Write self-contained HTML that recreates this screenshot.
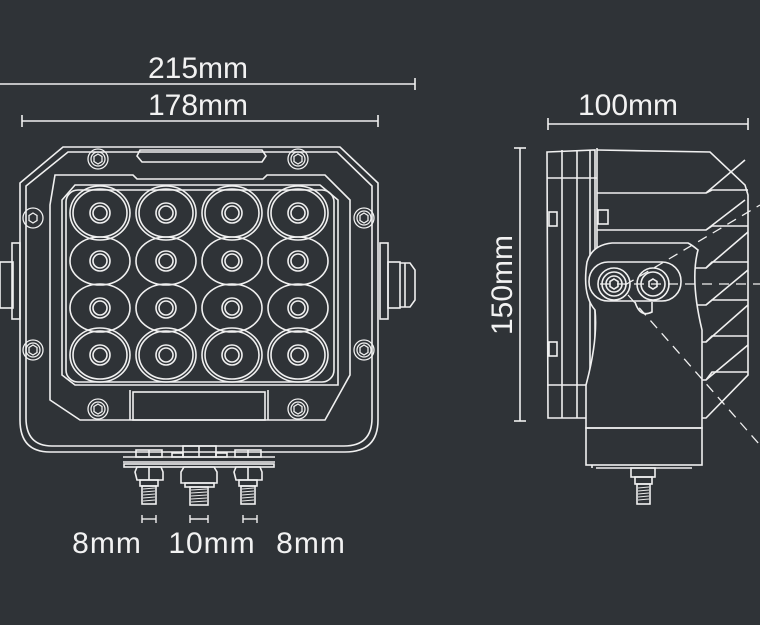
<!DOCTYPE html>
<html><head><meta charset="utf-8"><style>
html,body{margin:0;padding:0;background:#2f3337;}
svg{display:block}
text{font-family:"Liberation Sans",sans-serif;fill:#f2f2f2;font-size:30px}
</style></head><body>
<svg width="760" height="625" viewBox="0 0 760 625" xmlns="http://www.w3.org/2000/svg">
<rect width="760" height="625" fill="#2f3337"/>
<g stroke="#f0f0f0" fill="none" stroke-width="1.6">
<line x1="0" y1="84" x2="415" y2="84"/><line x1="415" y1="78" x2="415" y2="90"/>
<line x1="22" y1="121" x2="378" y2="121"/><line x1="22" y1="115" x2="22" y2="127"/><line x1="378" y1="115" x2="378" y2="127"/>
<line x1="548" y1="124" x2="748" y2="124"/><line x1="548" y1="118" x2="548" y2="130"/><line x1="748" y1="118" x2="748" y2="130"/>
<line x1="520" y1="148" x2="520" y2="421"/><line x1="514" y1="148" x2="526" y2="148"/><line x1="514" y1="421" x2="526" y2="421"/>
<g stroke-width="1.4">
<line x1="142" y1="519" x2="156" y2="519"/><line x1="142" y1="515" x2="142" y2="523"/><line x1="156" y1="515" x2="156" y2="523"/>
<line x1="190" y1="519" x2="208" y2="519"/><line x1="190" y1="515" x2="190" y2="523"/><line x1="208" y1="515" x2="208" y2="523"/>
<line x1="243" y1="519" x2="257" y2="519"/><line x1="243" y1="515" x2="243" y2="523"/><line x1="257" y1="515" x2="257" y2="523"/>
</g>
<!-- FRONT VIEW -->
<path d="M63 147 L340 147 L378 183 L378 420 Q378 452 345 452 L50 452 Q20 452 20 420 L20 183 Z"/>
<path d="M68 152 L337 152 L372 186 L372 418 Q372 446 344 446 L52 446 Q26 446 26 418 L26 186 Z"/>
<path d="M140 150 L262 150 L266 156 L262 162 L142 162 L137 156 Z"/>
<path d="M55 175 L133 175 L137 179 L263 179 L267 175 L325 175 L350 200 L350 375 L325 420 L80 420 L50 400 L50 205 Z"/>
<path d="M75 185 L320 185 L338 200 L338 385 L75 385 L62 375 L62 200 Z"/>
<rect x="66" y="190" width="268" height="192" rx="12"/>
<rect x="133" y="392" width="132" height="28"/>
<line x1="130" y1="390" x2="130" y2="420"/><line x1="268" y1="390" x2="268" y2="420"/>
<g>
<ellipse cx="100" cy="213" rx="30" ry="27"/><ellipse cx="100" cy="213" rx="27" ry="24"/><circle cx="100" cy="213" r="10"/><circle cx="100" cy="213" r="7"/>
<ellipse cx="166" cy="213" rx="30" ry="27"/><ellipse cx="166" cy="213" rx="27" ry="24"/><circle cx="166" cy="213" r="10"/><circle cx="166" cy="213" r="7"/>
<ellipse cx="232" cy="213" rx="30" ry="27"/><ellipse cx="232" cy="213" rx="27" ry="24"/><circle cx="232" cy="213" r="10"/><circle cx="232" cy="213" r="7"/>
<ellipse cx="298" cy="213" rx="30" ry="27"/><ellipse cx="298" cy="213" rx="27" ry="24"/><circle cx="298" cy="213" r="10"/><circle cx="298" cy="213" r="7"/>
</g>
<g transform="translate(0,48)">
<ellipse cx="100" cy="213" rx="30" ry="24"/><circle cx="100" cy="213" r="10"/><circle cx="100" cy="213" r="7"/>
<ellipse cx="166" cy="213" rx="30" ry="24"/><circle cx="166" cy="213" r="10"/><circle cx="166" cy="213" r="7"/>
<ellipse cx="232" cy="213" rx="30" ry="24"/><circle cx="232" cy="213" r="10"/><circle cx="232" cy="213" r="7"/>
<ellipse cx="298" cy="213" rx="30" ry="24"/><circle cx="298" cy="213" r="10"/><circle cx="298" cy="213" r="7"/>
</g>
<g transform="translate(0,95)">
<ellipse cx="100" cy="213" rx="30" ry="24"/><circle cx="100" cy="213" r="10"/><circle cx="100" cy="213" r="7"/>
<ellipse cx="166" cy="213" rx="30" ry="24"/><circle cx="166" cy="213" r="10"/><circle cx="166" cy="213" r="7"/>
<ellipse cx="232" cy="213" rx="30" ry="24"/><circle cx="232" cy="213" r="10"/><circle cx="232" cy="213" r="7"/>
<ellipse cx="298" cy="213" rx="30" ry="24"/><circle cx="298" cy="213" r="10"/><circle cx="298" cy="213" r="7"/>
</g>
<g transform="translate(0,142)">
<ellipse cx="100" cy="213" rx="30" ry="27"/><ellipse cx="100" cy="213" rx="27" ry="24"/><circle cx="100" cy="213" r="10"/><circle cx="100" cy="213" r="7"/>
<ellipse cx="166" cy="213" rx="30" ry="27"/><ellipse cx="166" cy="213" rx="27" ry="24"/><circle cx="166" cy="213" r="10"/><circle cx="166" cy="213" r="7"/>
<ellipse cx="232" cy="213" rx="30" ry="27"/><ellipse cx="232" cy="213" rx="27" ry="24"/><circle cx="232" cy="213" r="10"/><circle cx="232" cy="213" r="7"/>
<ellipse cx="298" cy="213" rx="30" ry="27"/><ellipse cx="298" cy="213" rx="27" ry="24"/><circle cx="298" cy="213" r="10"/><circle cx="298" cy="213" r="7"/>
</g>
<g stroke-width="1.3">
<circle cx="98" cy="159" r="10"/><circle cx="98" cy="159" r="7"/><polygon points="98,154 102,156.5 102,161.5 98,164 94,161.5 94,156.5"/>
<circle cx="298" cy="159" r="10"/><circle cx="298" cy="159" r="7"/><polygon points="298,154 302,156.5 302,161.5 298,164 294,161.5 294,156.5"/>
<circle cx="33" cy="218" r="10"/><polygon points="33,213 37,215.5 37,220.5 33,223 29,220.5 29,215.5"/>
<circle cx="364" cy="218" r="10"/><circle cx="364" cy="218" r="7"/><polygon points="364,213 368,215.5 368,220.5 364,223 360,220.5 360,215.5"/>
<circle cx="33" cy="350" r="10"/><circle cx="33" cy="350" r="7"/><polygon points="33,345 37,347.5 37,352.5 33,355 29,352.5 29,347.5"/>
<circle cx="364" cy="350" r="10"/><circle cx="364" cy="350" r="7"/><polygon points="364,345 368,347.5 368,352.5 364,355 360,352.5 360,347.5"/>
<circle cx="98" cy="409" r="10"/><circle cx="98" cy="409" r="7"/><polygon points="98,404 102,406.5 102,411.5 98,414 94,411.5 94,406.5"/>
<circle cx="298" cy="409" r="10"/><circle cx="298" cy="409" r="7"/><polygon points="298,404 302,406.5 302,411.5 298,414 294,411.5 294,406.5"/>
</g>
<rect x="0" y="262" width="13" height="46"/><rect x="12" y="243" width="8" height="76"/>
<rect x="380" y="243" width="8" height="76"/><rect x="388" y="262" width="12" height="46"/>
<path d="M400 263 L410 263 L415 270 L415 300 L410 307 L400 307"/><line x1="405" y1="263" x2="405" y2="307"/>
<line x1="123" y1="457" x2="275" y2="457"/><line x1="123" y1="462" x2="275" y2="462"/>
<rect x="136" y="450" width="26" height="7"/><line x1="149" y1="450" x2="149" y2="457"/>
<rect x="235" y="450" width="26" height="7"/><line x1="248" y1="450" x2="248" y2="457"/>
<rect x="183" y="446" width="33" height="11"/><line x1="199" y1="446" x2="199" y2="457"/>
<rect x="172" y="453" width="11" height="4"/><rect x="216" y="453" width="11" height="4"/>
<rect x="124" y="464" width="150" height="3"/>
<path d="M137 467 L161 467 L163 472 L163 480 L137 480 L135 472 Z"/><line x1="149" y1="467" x2="149" y2="480"/>
<path d="M236 467 L260 467 L262 472 L262 480 L236 480 L234 472 Z"/><line x1="248" y1="467" x2="248" y2="480"/>
<path d="M184 467 L214 467 L217 472 L217 483 L181 483 L181 472 Z"/>
<rect x="140" y="480" width="18" height="6"/><rect x="239" y="480" width="18" height="6"/><rect x="185" y="483" width="29" height="4"/>
<rect x="142" y="486" width="14" height="18"/><rect x="241" y="486" width="14" height="18"/><rect x="190" y="487" width="18" height="18"/>
</g>
<g stroke="#e8e8e8" stroke-width="1">
<path d="M143 489 L155 488 M143 492 L155 491 M143 495 L155 494 M143 498 L155 497 M143 501 L155 500"/>
<path d="M242 489 L254 488 M242 492 L254 491 M242 495 L254 494 M242 498 L254 497 M242 501 L254 500"/>
<path d="M191 490 L207 489 M191 493 L207 492 M191 496 L207 495 M191 499 L207 498 M191 502 L207 501"/>
<path d="M638 488 L649 487 M638 491 L649 490 M638 494 L649 493 M638 497 L649 496 M638 500 L649 499"/>
</g>
<!-- SIDE VIEW -->
<g stroke="#f0f0f0" fill="none" stroke-width="1.6">
<path d="M547 152 L595 150 L595 418 L548 418 Z"/>
<line x1="562" y1="150" x2="562" y2="418"/><line x1="577" y1="150" x2="577" y2="418"/><line x1="590" y1="150" x2="590" y2="418"/><line x1="597" y1="148" x2="597" y2="418"/>
<line x1="547" y1="178" x2="597" y2="178"/><line x1="547" y1="385" x2="597" y2="385"/>
<rect x="549" y="212" width="8" height="14"/><rect x="549" y="342" width="8" height="14"/>
<path d="M597 150 L710 152 L745 185 L748 195 L748 375 L706 418 L597 418"/>
<path d="M597 193 L706 193 L745 160 M597 230 L706 230 L745 200 M597 268 L706 268 L748 232 M597 305 L706 305 L748 270 M597 342 L706 342 L748 305 M597 380 L706 380 L748 345"/>
<path d="M706 193 L712 190 L748 190 M706 230 L712 226 L748 226 M706 268 L712 262 L748 262 M706 305 L712 300 L748 300 M706 342 L712 336 L748 336 M706 380 L712 372 L748 372"/>
<rect x="598" y="210" width="10" height="14"/>
<path d="M586 428 L586 385 Q598 340 595 310 Q582 295 587 262 Q592 245 612 243 L688 243 Q692 245 698 250 Q690 280 702 330 L702 428 Z" fill="#2f3337"/>
<rect x="586" y="428" width="116" height="37"/>
<line x1="592" y1="465" x2="592" y2="468"/><line x1="596" y1="468" x2="692" y2="468"/>
<rect x="589" y="262" width="92" height="39" rx="19"/>
<circle cx="614" cy="284" r="16"/><circle cx="614" cy="284" r="12"/><circle cx="614" cy="284" r="8"/>
<circle cx="653" cy="284" r="16"/><circle cx="653" cy="284" r="12"/>
<polygon points="614,279 618,281.5 618,286.5 614,289 610,286.5 610,281.5"/>
<polygon points="653,279 657,281.5 657,286.5 653,289 649,286.5 649,281.5"/>
<path d="M635 302 Q640 318 652 312 L652 302"/>
<rect x="631" y="468" width="24" height="9"/><rect x="635" y="477" width="17" height="7"/><rect x="637" y="484" width="13" height="20"/>
</g>
<g stroke="#f0f0f0" stroke-width="1.3" fill="none" stroke-dasharray="10,7">
<line x1="600" y1="284" x2="760" y2="284"/>
<line x1="628" y1="295" x2="760" y2="445"/>
<line x1="625" y1="285" x2="760" y2="205"/>
</g>
<text x="198" y="78" text-anchor="middle">215mm</text>
<text x="198" y="115" text-anchor="middle">178mm</text>
<text x="628" y="115" text-anchor="middle">100mm</text>
<text transform="translate(512,285) rotate(-90)" text-anchor="middle">150mm</text>
<text x="107" y="553" text-anchor="middle" letter-spacing="1">8mm</text>
<text x="212" y="553" text-anchor="middle" letter-spacing="1">10mm</text>
<text x="311" y="553" text-anchor="middle" letter-spacing="1">8mm</text>
</svg>
</body></html>
